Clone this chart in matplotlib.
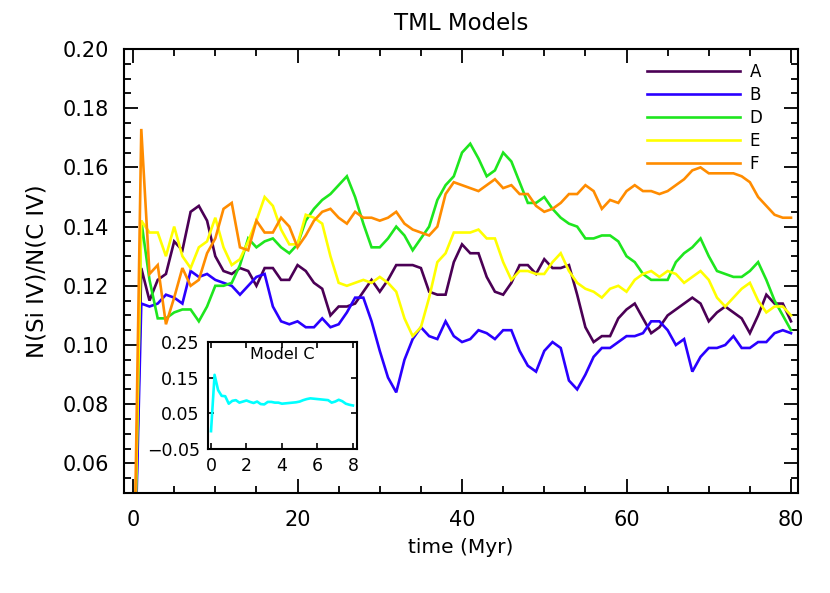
import matplotlib
matplotlib.use("Agg")
import matplotlib.pyplot as plt
from matplotlib.ticker import MultipleLocator, FixedLocator

time = list(range(0, 81))

A = [0.000, 0.126, 0.115, 0.122, 0.124, 0.135, 0.132, 0.145, 0.147, 0.142,
     0.130, 0.125, 0.124, 0.126, 0.125, 0.120, 0.126, 0.126, 0.122, 0.122,
     0.127, 0.125, 0.121, 0.119, 0.110, 0.113, 0.113, 0.114, 0.118, 0.122,
     0.118, 0.122, 0.127, 0.127, 0.127, 0.126, 0.118, 0.117, 0.117, 0.128,
     0.134, 0.131, 0.131, 0.123, 0.118, 0.117, 0.121, 0.127, 0.127, 0.124,
     0.129, 0.126, 0.126, 0.127, 0.117, 0.106, 0.101, 0.103, 0.103, 0.109,
     0.112, 0.114, 0.109, 0.104, 0.106, 0.110, 0.112, 0.114, 0.116, 0.114,
     0.108, 0.111, 0.113, 0.111, 0.109, 0.104, 0.110, 0.117, 0.114, 0.114,
     0.108]

B = [0.000, 0.114, 0.113, 0.114, 0.117, 0.116, 0.114, 0.125, 0.123, 0.124,
     0.122, 0.121, 0.120, 0.117, 0.120, 0.123, 0.124, 0.113, 0.108, 0.107,
     0.108, 0.106, 0.106, 0.109, 0.106, 0.107, 0.111, 0.116, 0.116, 0.108,
     0.098, 0.089, 0.084, 0.095, 0.102, 0.106, 0.103, 0.102, 0.108, 0.103,
     0.101, 0.102, 0.105, 0.104, 0.102, 0.105, 0.105, 0.098, 0.093, 0.091,
     0.098, 0.101, 0.099, 0.088, 0.085, 0.090, 0.096, 0.099, 0.099, 0.101,
     0.103, 0.103, 0.104, 0.108, 0.108, 0.105, 0.100, 0.102, 0.091, 0.096,
     0.099, 0.099, 0.100, 0.103, 0.099, 0.099, 0.101, 0.101, 0.104, 0.105,
     0.104]

D = [0.000, 0.142, 0.122, 0.109, 0.109, 0.111, 0.112, 0.112, 0.108, 0.113,
     0.120, 0.120, 0.121, 0.127, 0.136, 0.133, 0.135, 0.136, 0.133, 0.131,
     0.134, 0.142, 0.146, 0.149, 0.151, 0.154, 0.157, 0.150, 0.141, 0.133,
     0.133, 0.136, 0.140, 0.137, 0.132, 0.136, 0.140, 0.149, 0.154, 0.157,
     0.165, 0.168, 0.163, 0.157, 0.159, 0.165, 0.162, 0.155, 0.148, 0.148,
     0.150, 0.146, 0.143, 0.141, 0.140, 0.136, 0.136, 0.137, 0.137, 0.135,
     0.130, 0.128, 0.124, 0.122, 0.122, 0.122, 0.128, 0.131, 0.133, 0.136,
     0.130, 0.125, 0.124, 0.123, 0.123, 0.125, 0.128, 0.122, 0.115, 0.110,
     0.105]

E = [0.000, 0.142, 0.138, 0.138, 0.130, 0.140, 0.130, 0.126, 0.133, 0.135,
     0.143, 0.133, 0.127, 0.129, 0.135, 0.142, 0.150, 0.147, 0.139, 0.134,
     0.134, 0.144, 0.143, 0.141, 0.130, 0.121, 0.120, 0.121, 0.122, 0.121,
     0.123, 0.121, 0.118, 0.109, 0.103, 0.106, 0.116, 0.128, 0.131, 0.138,
     0.138, 0.138, 0.139, 0.136, 0.136, 0.128, 0.122, 0.125, 0.125, 0.124,
     0.124, 0.128, 0.131, 0.125, 0.121, 0.119, 0.118, 0.116, 0.119, 0.120,
     0.118, 0.122, 0.124, 0.125, 0.123, 0.125, 0.124, 0.121, 0.123, 0.125,
     0.122, 0.116, 0.113, 0.116, 0.119, 0.121, 0.115, 0.111, 0.113, 0.113,
     0.110]

F = [0.000, 0.173, 0.124, 0.127, 0.107, 0.116, 0.126, 0.120, 0.122, 0.131,
     0.136, 0.146, 0.148, 0.133, 0.132, 0.142, 0.138, 0.138, 0.143, 0.140,
     0.133, 0.137, 0.142, 0.145, 0.146, 0.143, 0.141, 0.145, 0.143, 0.143,
     0.142, 0.143, 0.145, 0.141, 0.139, 0.138, 0.137, 0.140, 0.151, 0.155,
     0.154, 0.153, 0.152, 0.154, 0.156, 0.153, 0.154, 0.151, 0.151, 0.147,
     0.145, 0.146, 0.148, 0.151, 0.151, 0.154, 0.152, 0.146, 0.149, 0.148,
     0.152, 0.154, 0.152, 0.152, 0.151, 0.152, 0.154, 0.156, 0.159, 0.160,
     0.158, 0.158, 0.158, 0.158, 0.157, 0.155, 0.150, 0.147, 0.144, 0.143,
     0.143]

series_names = ["A", "B", "D", "E", "F"]
series_colors = ["#4b0055", "#2a00ff", "#1ee61e", "#ffff00", "#ff8c00"]

time_c = [0.0, 0.2, 0.4, 0.6, 0.8, 1.0, 1.2, 1.4, 1.6, 1.8, 2.0, 2.2, 2.4, 2.6,
          2.8, 3.0, 3.2, 3.4, 3.6, 3.8, 4.0, 4.2, 4.4, 4.6, 4.8, 5.0, 5.2, 5.4,
          5.6, 5.8, 6.0, 6.2, 6.4, 6.6, 6.8, 7.0, 7.2, 7.4, 7.6, 7.8, 8.0]
C = [0.000, 0.158, 0.115, 0.099, 0.098, 0.077, 0.085, 0.087, 0.080, 0.083,
     0.086, 0.082, 0.079, 0.083, 0.076, 0.075, 0.082, 0.082, 0.080, 0.080,
     0.077, 0.078, 0.079, 0.080, 0.081, 0.083, 0.087, 0.090, 0.092, 0.091,
     0.090, 0.089, 0.088, 0.087, 0.080, 0.083, 0.088, 0.084, 0.077, 0.074,
     0.072]

plt.rcParams['font.family'] = ['DejaVu Sans']
fig = plt.figure(figsize=(8.3, 5.93), dpi=100)
ax = fig.add_axes([124/830, 100/593, 674/830, 444/593])

for name, vals, col in zip(series_names, [A, B, D, E, F], series_colors):
    ax.plot(time, vals, color=col, lw=1.9, label=name, solid_joinstyle='miter')

ax.set_xlim(-1.1, 80.85)
ax.set_ylim(0.05, 0.20)
ax.xaxis.set_major_locator(MultipleLocator(20))
ax.xaxis.set_minor_locator(MultipleLocator(5))
ax.yaxis.set_major_locator(FixedLocator([0.06, 0.08, 0.10, 0.12, 0.14, 0.16, 0.18, 0.20]))
ax.yaxis.set_minor_locator(MultipleLocator(0.005))
ax.yaxis.set_major_formatter(matplotlib.ticker.FormatStrFormatter('%.2f'))
ax.tick_params(which='both', direction='in', top=True, right=True, width=1.3,
               labelsize=15, colors='black')
ax.tick_params(which='major', length=10)
ax.tick_params(which='minor', length=5)
ax.tick_params(axis='x', which='major', pad=12)
ax.tick_params(axis='y', which='major', pad=11)
for s in ax.spines.values():
    s.set_linewidth(1.5)

ax.set_title("TML Models", fontsize=16.5, pad=14)
ax.set_xlabel("time (Myr)", fontsize=14.5, labelpad=6)
ax.set_ylabel("N(Si IV)/N(C IV)", fontsize=16.5, labelpad=10)

leg = ax.legend(loc='upper right', frameon=False, fontsize=12,
                handlelength=5.6, handletextpad=0.6, labelspacing=0.3,
                borderaxespad=0.3, bbox_to_anchor=(0.965, 0.995))
for line in leg.get_lines():
    line.set_linewidth(1.9)

# inset
ins = fig.add_axes([208/830, 144/593, 149/830, 107/593])
ins.plot(time_c, C, color='#00ffff', lw=1.9)
ins.set_xlim(-0.17, 8.23)
ins.set_ylim(-0.05, 0.25)
ins.xaxis.set_major_locator(MultipleLocator(2))
ins.yaxis.set_major_locator(FixedLocator([-0.05, 0.05, 0.15, 0.25]))
ins.yaxis.set_major_formatter(matplotlib.ticker.FuncFormatter(
    lambda v, p: ("\u22120.05" if v < 0 else "%.2f" % v)))
ins.tick_params(which='both', direction='in', top=True, right=True, width=1.2,
                labelsize=12.5, length=4, pad=6)
for s in ins.spines.values():
    s.set_linewidth(1.5)
ins.text(0.5, 0.88, "Model C", transform=ins.transAxes, ha='center', va='center',
         fontsize=11.5)

fig.savefig("out.png", dpi=100)
